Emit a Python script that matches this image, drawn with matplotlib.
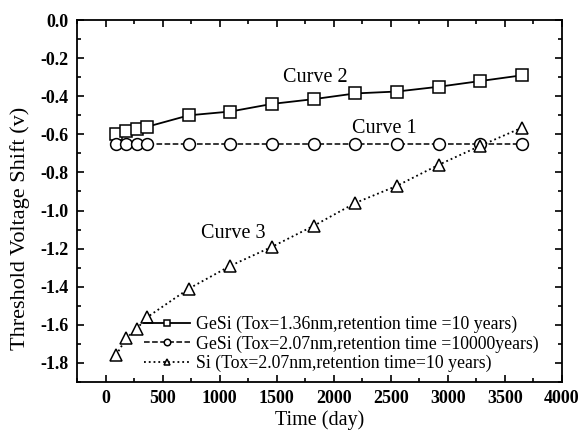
import matplotlib
matplotlib.use("Agg")
import matplotlib.pyplot as plt
from matplotlib.ticker import MultipleLocator, FuncFormatter

plt.rcParams['font.family'] = ['Liberation Serif', 'DejaVu Serif']

days = [91, 182, 274, 365, 730, 1095, 1460, 1825, 2190, 2555, 2920, 3285, 3650]
curve2 = [-0.60, -0.58, -0.57, -0.56, -0.50, -0.48, -0.44, -0.415, -0.385, -0.375, -0.35, -0.32, -0.29]
curve1 = [-0.65] * 13
curve3 = [-1.76, -1.67, -1.62, -1.56, -1.41, -1.29, -1.19, -1.08, -0.96, -0.87, -0.76, -0.66, -0.565]

labels = ["GeSi (Tox=1.36nm,retention time =10 years)",
          "GeSi (Tox=2.07nm,retention time =10000years)",
          "Si (Tox=2.07nm,retention time=10 years)"]

fig = plt.figure(figsize=(5.84, 4.37), dpi=100)
ax = fig.add_axes([0.132, 0.126, 0.830, 0.828])

mk = dict(markersize=8.5, markerfacecolor='white', markeredgecolor='black', markeredgewidth=1.1, color='black')
ax.plot(days, curve2, '-', marker='s', lw=1.3, label=labels[0], **mk)
ax.plot(days, curve1, '--', marker='o', lw=1.1, label=labels[1], **mk)
ax.plot(days, curve3, ':', marker='^', lw=1.3, label=labels[2], **mk)

ax.set_xlim(-250, 4000)
ax.set_ylim(-1.9, 0.0)
ax.xaxis.set_major_locator(MultipleLocator(500))
ax.xaxis.set_minor_locator(MultipleLocator(250))
ax.yaxis.set_major_locator(MultipleLocator(0.2))
ax.yaxis.set_minor_locator(MultipleLocator(0.1))
ax.tick_params(which='both', direction='in', top=True, right=True, width=1.2)
ax.tick_params(which='major', length=5, labelsize=13, pad=6)
ax.tick_params(which='minor', length=3)
for s in ax.spines.values():
    s.set_linewidth(1.3)
ax.yaxis.set_major_formatter(FuncFormatter(lambda v, p: f"{v:.1f}".replace('-0.0', '0.0')))
for t in ax.get_xticklabels() + ax.get_yticklabels():
    t.set_fontweight('bold')

ax.set_xlabel("Time (day)", fontsize=14.5, labelpad=2)
ax.set_ylabel("Threshold Voltage Shift (v)", fontsize=16)
ax.yaxis.set_label_coords(-0.098, 0.425)

ax.text(1842, -0.30, "Curve 2", fontsize=14.5, ha='center', va='center')
ax.text(2440, -0.567, "Curve 1", fontsize=14.5, ha='center', va='center')
ax.text(1123, -1.118, "Curve 3", fontsize=14.5, ha='center', va='center')

ax.legend(loc='upper left', bbox_to_anchor=(144 / 584, 1 - 316 / 437), bbox_transform=fig.transFigure,
          frameon=False, fontsize=12.8,
          handlelength=2.6, handletextpad=0.3, labelspacing=0.12, markerscale=0.55, borderpad=0,
          borderaxespad=0)

fig.savefig("out.png", dpi=100)
